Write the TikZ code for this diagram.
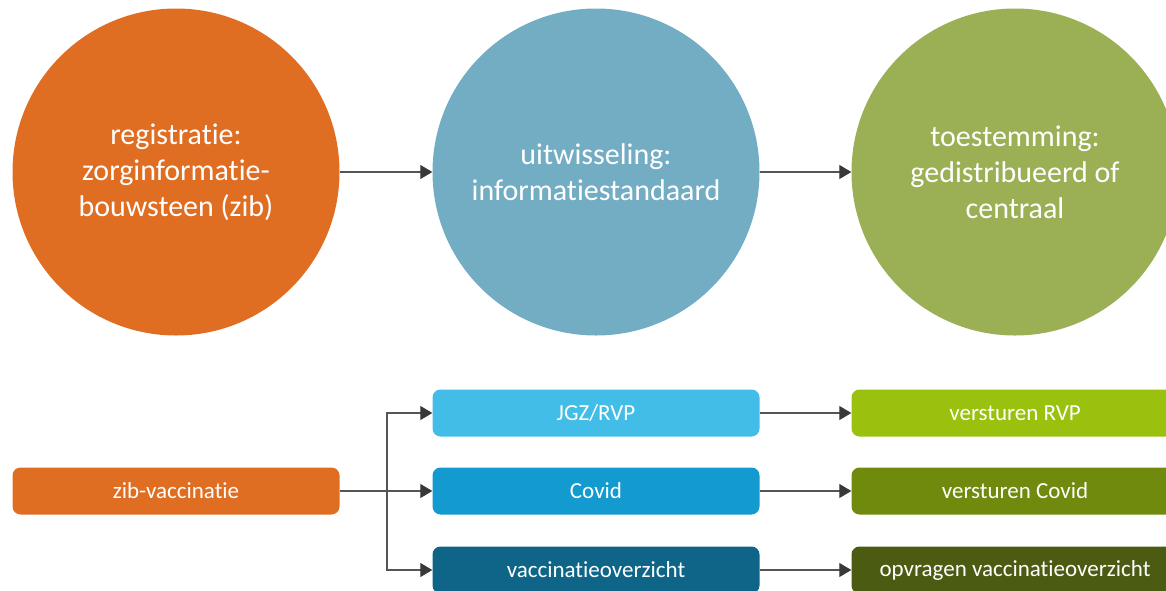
\documentclass[tikz,border=0pt]{standalone}
\usepackage{fontspec}
\setmainfont{Carlito}[Ligatures={NoCommon}, RawFeature={-calt;-dlig}]
\usetikzlibrary{arrows.meta}
\definecolor{corange}{HTML}{E06E22}
\definecolor{cblue}{HTML}{72ADC3}
\definecolor{cgreen}{HTML}{9BAF55}
\definecolor{bjgz}{HTML}{41BDE8}
\definecolor{bcovid}{HTML}{139BD0}
\definecolor{bvacc}{HTML}{0F6587}
\definecolor{grvp}{HTML}{99C10E}
\definecolor{gcovid}{HTML}{6F8A0C}
\definecolor{gopv}{HTML}{4B5C12}
\definecolor{lineg}{HTML}{555555}
\definecolor{tipg}{HTML}{383838}
\tikzset{
  bigcirc/.style={circle, inner sep=0pt, minimum size=327pt, text=white, align=center,
    font=\fontsize{30}{36}\selectfont},
  box/.style={rounded corners=8pt, inner sep=0pt, minimum width=327pt, minimum height=47pt,
    text=white, font=\fontsize{23}{27}\selectfont},
  conn/.style={draw=lineg, line width=1.1pt, -{Triangle[length=12pt,width=14pt,fill=tipg,color=tipg]}},
}
\begin{document}
\begin{tikzpicture}[x=1pt,y=-1pt]
\useasboundingbox (0,0) rectangle (1166,590);
\clip (0,0) rectangle (1166,590);
% circles
\node[bigcirc, fill=corange] (c1) at (176,172) {registratie:\\zorginformatie-\\bouwsteen (zib)};
\node[bigcirc, fill=cblue] (c2) at (596,172) {uitwisseling:\\informatiestandaard};
\node[bigcirc, fill=cgreen] (c3) at (1015,172) {toestemming:\\gedistribueerd of\\centraal};
\draw[conn] (c1.east) -- (c2.west);
\draw[conn] (c2.east) -- (c3.west);
% boxes
\node[box, fill=corange] (zib) at (176,491) {zib-vaccinatie};
\node[box, fill=bjgz] (jgz) at (596,413) {JGZ/RVP};
\node[box, fill=bcovid] (cov) at (596,491) {Covid};
\node[box, fill=bvacc] (vac) at (596,570) {vaccinatieoverzicht};
\node[box, fill=grvp] (rvp) at (1015,413) {versturen RVP};
\node[box, fill=gcovid] (vcov) at (1015,491) {versturen Covid};
\node[box, fill=gopv] (opv) at (1015,570) {opvragen vaccinatieoverzicht};
\coordinate (split) at (387,491);
\draw[draw=lineg, line width=1.1pt] (zib.east) -- (split);
\draw[conn] (split) |- (jgz.west);
\draw[conn] (split) -- (cov.west);
\draw[conn] (split) |- (vac.west);
\draw[conn] (jgz.east) -- (rvp.west);
\draw[conn] (cov.east) -- (vcov.west);
\draw[conn] (vac.east) -- (opv.west);
\end{tikzpicture}
\end{document}
